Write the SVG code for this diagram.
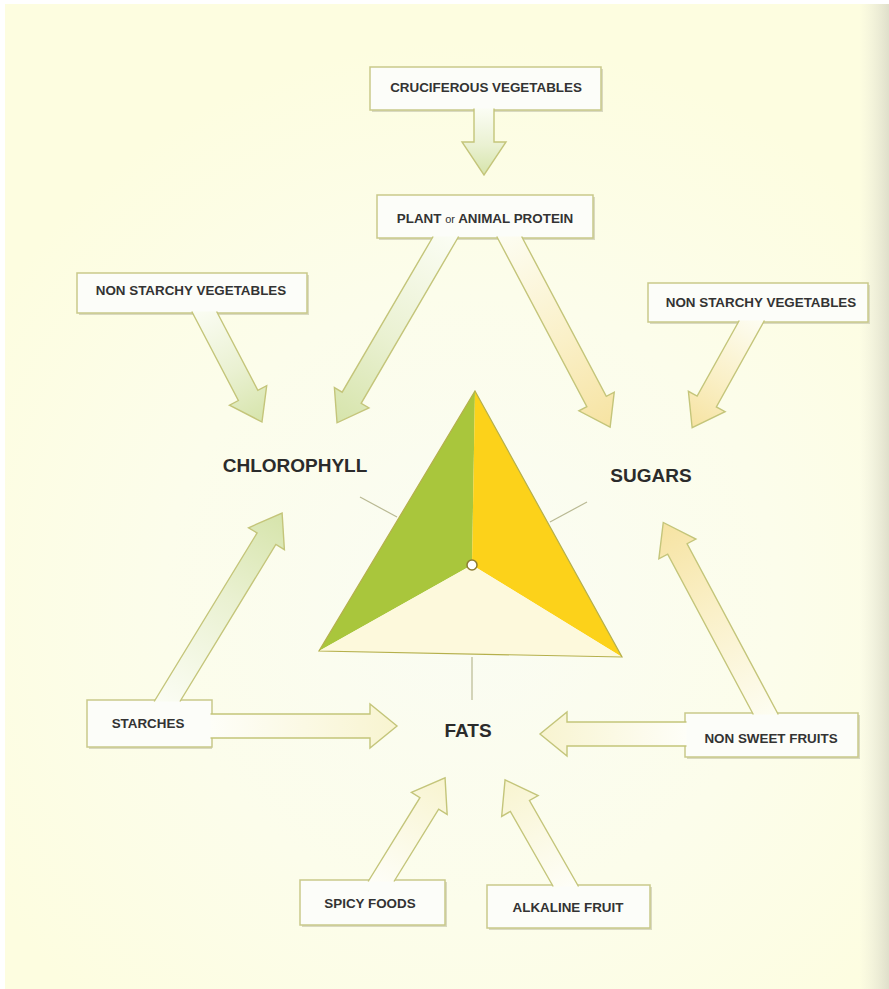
<svg xmlns="http://www.w3.org/2000/svg" width="889" height="989" viewBox="0 0 889 989">
<defs>
<radialGradient id="bg" cx="470" cy="600" r="560" gradientUnits="userSpaceOnUse">
<stop offset="0" stop-color="#fafcf3"/>
<stop offset="0.55" stop-color="#fcfdeb"/>
<stop offset="1" stop-color="#fdfde0"/>
</radialGradient>
<linearGradient id="edge" x1="0" y1="0" x2="1" y2="0">
<stop offset="0" stop-color="#e8e8d8" stop-opacity="0"/>
<stop offset="1" stop-color="#dcdcc8" stop-opacity="0.9"/>
</linearGradient>
<linearGradient id="gGreen" x1="0" y1="0" x2="1" y2="0">
<stop offset="0" stop-color="#fbfdf4"/>
<stop offset="0.55" stop-color="#eaf1d2"/>
<stop offset="1" stop-color="#d6e4ab"/>
</linearGradient>
<linearGradient id="gYellow" x1="0" y1="0" x2="1" y2="0">
<stop offset="0" stop-color="#fdfdf2"/>
<stop offset="0.55" stop-color="#faf0c8"/>
<stop offset="1" stop-color="#f6e3a2"/>
</linearGradient>
<linearGradient id="gCream" x1="0" y1="0" x2="1" y2="0">
<stop offset="0" stop-color="#fefef8"/>
<stop offset="1" stop-color="#f8f4d0"/>
</linearGradient>
</defs>
<style>
.box{fill:#fcfdf9;stroke:#c9c98a;stroke-width:1.5}
.shadow{fill:#d9d9c0}
.lbl{font-family:"Liberation Sans",Arial,sans-serif;font-weight:bold;font-size:13.4px;fill:#333333;text-anchor:middle}
.big{font-family:"Liberation Sans",Arial,sans-serif;font-weight:bold;font-size:19px;fill:#2b2b2b;text-anchor:middle}
.arr{stroke:#c4c57a;stroke-width:1.4;stroke-linejoin:miter}
.tick{stroke:#b9b993;stroke-width:1.2;fill:none}
</style>
<rect x="0" y="0" width="889" height="989" fill="#ffffff"/>
<rect x="5" y="4" width="884" height="985" fill="url(#bg)"/>
<rect x="860" y="4" width="29" height="985" fill="url(#edge)"/>

<g id="triangle">
<path d="M475,391 L472,565 L319,651 Z" fill="#a9c63c"/>
<path d="M475,391 L622,657 L472,565 Z" fill="#fcd21a"/>
<path d="M319,651 L472,565 L622,657 Z" fill="#fdf9dc"/>
<path d="M475,391 L622,657 L319,651 Z" fill="none" stroke="#b5b04c" stroke-width="1.2"/>
<line class="tick" x1="360" y1="497" x2="397" y2="517"/>
<line class="tick" x1="587" y1="502" x2="550" y2="522"/>
<line class="tick" x1="472" y1="657" x2="472" y2="700"/>
<circle cx="472" cy="565" r="5" fill="#ffffff" stroke="#8c7c32" stroke-width="1.5"/>
</g>

<g id="chlorophyll"><text class="big" x="295" y="472">CHLOROPHYLL</text></g>
<g id="sugars"><text class="big" x="651" y="482">SUGARS</text></g>
<g id="fats"><text class="big" x="468" y="737">FATS</text></g>

<g id="cruciferous">
<rect class="shadow" x="372" y="69" width="231" height="43"/>
<rect class="box" x="370" y="67" width="231" height="43"/>
<text class="lbl" x="486" y="92">CRUCIFEROUS VEGETABLES</text>
</g>
<g id="protein">
<rect class="shadow" x="379" y="197" width="216" height="43"/>
<rect class="box" x="377" y="195" width="216" height="43"/>
<text class="lbl" x="485" y="223">PLANT <tspan font-weight="normal" font-size="11px">or</tspan> ANIMAL PROTEIN</text>
</g>
<g id="nsv-left">
<rect class="shadow" x="79" y="275" width="230" height="40"/>
<rect class="box" x="77" y="273" width="230" height="40"/>
<text class="lbl" x="191" y="295">NON STARCHY VEGETABLES</text>
</g>
<g id="nsv-right">
<rect class="shadow" x="650" y="285" width="220" height="39"/>
<rect class="box" x="648" y="283" width="220" height="39"/>
<text class="lbl" x="761" y="307">NON STARCHY VEGETABLES</text>
</g>
<g id="starches">
<rect class="shadow" x="89" y="702" width="123" height="47"/>
<rect class="box" x="87" y="700" width="125" height="47"/>
<text class="lbl" x="148" y="728">STARCHES</text>
</g>
<g id="non-sweet-fruits">
<rect class="shadow" x="687" y="715" width="173" height="44"/>
<rect class="box" x="685" y="713" width="173" height="44"/>
<text class="lbl" x="771" y="743">NON SWEET FRUITS</text>
</g>
<g id="spicy-foods">
<rect class="shadow" x="302" y="882" width="145" height="45"/>
<rect class="box" x="300" y="880" width="145" height="45"/>
<text class="lbl" x="370" y="908">SPICY FOODS</text>
</g>
<g id="alkaline-fruit">
<rect class="shadow" x="489" y="887" width="163" height="43"/>
<rect class="box" x="487" y="885" width="163" height="43"/>
<text class="lbl" x="568" y="912">ALKALINE FRUIT</text>
</g>

<g id="connectors">
<path class="arr" fill="url(#gGreen)" transform="translate(484,110) rotate(90)" d="M -1.5,-10 H 32 V -22 L 65,0 L 32,22 V 10 H -1.5"/>
<path class="arr" fill="url(#gGreen)" transform="translate(445,238) rotate(120.3)" d="M -8.17,-11 H 185 V -20 L 214,0 L 185,20 V 11 H 4.69"/>
<path class="arr" fill="url(#gYellow)" transform="translate(510,238) rotate(62.1)" d="M 4.13,-11 H 185 V -20 L 214,0 L 185,20 V 11 H -7.52"/>
<path class="arr" fill="url(#gGreen)" transform="translate(205,313) rotate(62.4)" d="M 4.06,-11 H 93 V -21 L 123,0 L 93,21 V 11 H -7.44"/>
<path class="arr" fill="url(#gYellow)" transform="translate(751,322) rotate(119.1)" d="M -7.84,-11 H 91 V -21 L 121,0 L 91,21 V 11 H 4.4"/>
<path class="arr" fill="url(#gGreen)" transform="translate(168,700) rotate(-58.6)" d="M -8.47,-11 H 189 V -21 L 219,0 L 189,21 V 11 H 4.96"/>
<path class="arr" fill="url(#gCream)" transform="translate(212,726)" d="M -1.5,-12 H 158 V -22 L 185,0 L 158,22 V 12 H -1.5"/>
<path class="arr" fill="url(#gYellow)" transform="translate(765,713) rotate(-118.1)" d="M 4.17,-11 H 186 V -21 L 216,0 L 186,21 V 11 H -7.57"/>
<path class="arr" fill="url(#gCream)" transform="translate(685,734) rotate(180)" d="M -1.5,-12 H 118 V -22 L 145,0 L 118,22 V 12 H -1.5"/>
<path class="arr" fill="url(#gCream)" transform="translate(382,880) rotate(-58.3)" d="M -8.56,-11 H 90 V -21 L 120,0 L 90,21 V 11 H 5.03"/>
<path class="arr" fill="url(#gCream)" transform="translate(565,885) rotate(-119.7)" d="M 4.55,-11 H 91 V -21 L 121,0 L 91,21 V 11 H -8"/>
</g>
</svg>
